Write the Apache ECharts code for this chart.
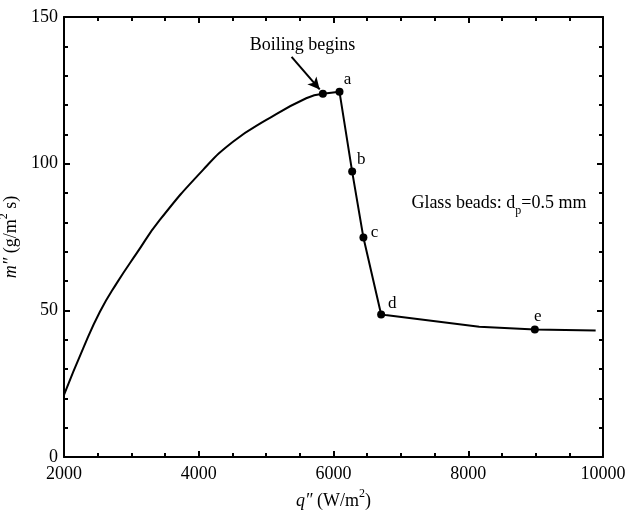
<!DOCTYPE html>
<html>
<head>
<meta charset="utf-8">
<script src="https://cdn.jsdelivr.net/npm/echarts@6/dist/echarts.min.js"></script>
<style>
html, body { margin: 0; padding: 0; background: #fff; }
#main { width: 627px; height: 510px; }
</style>
</head>
<body>
<div id="main"></div>
<script>
// before boiling: smooth curve q'' (W/m2) vs m'' (g/m2 s)
var curveQ = [2000, 2286, 2533, 2781, 3077, 3422, 4064, 4508, 5003, 5595, 5842];
var curveM = [21.2, 37.1, 49.5, 59.2, 69.4, 80.8, 97.9, 107.5, 114.9, 122.3, 123.8];
// after boiling: straight segments
var boilQ = [5842, 6089, 6277, 6444, 6707, 6770, 8163, 8988, 9891];
var boilM = [123.8, 124.5, 97.3, 74.8, 48.6, 48.4, 44.4, 43.5, 43.1];

// marked points
var markNames = ['', 'a', 'b', 'c', 'd', 'e'];
var markQ = [5842, 6089, 6277, 6444, 6707, 8988];
var markM = [123.8, 124.5, 97.3, 74.8, 48.6, 43.5];

var xTicks = [2000, 4000, 6000, 8000, 10000];
var yTicks = [0, 50, 100, 150];

var serif = 'Liberation Serif';
var myChart = echarts.init(document.getElementById('main'));

function pairs(xs, ys) {
    var out = [];
    for (var i = 0; i < xs.length; i++) out.push([xs[i], ys[i]]);
    return out;
}

// label offsets for a..e
var labelOffsets = [[0, 0], [8, -12], [9, -12], [11, -5], [11, -11], [3, -13]];
var dots = [];
for (var j = 0; j < markQ.length; j++) {
    dots.push({
        value: [markQ[j], markM[j]],
        name: markNames[j],
        label: { offset: labelOffsets[j] }
    });
}

var axisCommon = {
    type: 'value',
    axisLine: { show: true, onZero: false, lineStyle: { color: '#000', width: 2 } },
    axisTick: { show: true, inside: true, length: 6, lineStyle: { color: '#000', width: 2 } },
    minorTick: { show: true, length: 4, lineStyle: { color: '#000', width: 2 } },
    splitLine: { show: false },
    axisLabel: { color: '#000', fontFamily: serif, fontSize: 18, formatter: function (v) { return String(v); } }
};

var nameStyle = {
    color: '#000', fontFamily: serif, fontSize: 18,
    rich: {
        i: { fontFamily: serif, fontSize: 18, fontStyle: 'italic', color: '#000' },
        sup: { fontFamily: serif, fontSize: 12, color: '#000', padding: [0, 0, 15, 0] }
    }
};

option = {
    animation: false,
    backgroundColor: '#fff',
    grid: { left: 64, right: 24, top: 17, bottom: 53, outerBoundsMode: 'none' },
    xAxis: [
        echarts.util.merge({
            min: xTicks[0], max: xTicks[xTicks.length - 1], interval: 2000,
            minorTick: { splitNumber: 4 },
            axisLabel: { margin: 8 },
            name: '{i|q\u2033} (W/m{sup|2})',
            nameLocation: 'middle', nameGap: 31,
            nameTextStyle: nameStyle
        }, axisCommon, false),
        echarts.util.merge({
            position: 'top', min: xTicks[0], max: xTicks[xTicks.length - 1], interval: 2000,
            minorTick: { splitNumber: 4 },
            axisLabel: { show: false }
        }, axisCommon, false)
    ],
    yAxis: [
        echarts.util.merge({
            min: yTicks[0], max: yTicks[yTicks.length - 1], interval: 50,
            minorTick: { splitNumber: 5 },
            axisLabel: { margin: 6 },
            name: '{i|m\u2033} (g/m{sup|2} s)',
            nameLocation: 'middle', nameGap: 36,
            nameTextStyle: nameStyle
        }, axisCommon, false),
        echarts.util.merge({
            position: 'right', min: yTicks[0], max: yTicks[yTicks.length - 1], interval: 50,
            minorTick: { splitNumber: 5 },
            axisLabel: { show: false }
        }, axisCommon, false)
    ],
    series: [
        {
            type: 'line',
            data: pairs(curveQ, curveM),
            showSymbol: false,
            smooth: 0.5,
            lineStyle: { color: '#000', width: 2 },
            markLine: {
                silent: true,
                symbol: ['none', 'arrow'],
                symbolSize: [9, 12],
                lineStyle: { color: '#000', width: 2, type: 'solid' },
                label: { show: false },
                data: [[{ coord: [5378, 136.4] }, { coord: [5795, 125.3] }]]
            },
            z: 2
        },
        {
            type: 'line',
            data: pairs(boilQ, boilM),
            showSymbol: false,
            lineStyle: { color: '#000', width: 2 },
            z: 2
        },
        {
            type: 'scatter',
            data: dots,
            symbolSize: 8,
            itemStyle: { color: '#000', opacity: 1 },
            label: {
                show: true,
                position: 'inside',
                formatter: '{b}',
                color: '#000',
                fontFamily: serif,
                fontSize: 17
            },
            z: 3
        },
        {
            type: 'scatter',
            symbolSize: 0,
            itemStyle: { opacity: 1 },
            data: [
                { value: [5541, 140.5], label: { formatter: 'Boiling begins', position: 'inside' } },
                { value: [7156, 86.6], label: { formatter: 'Glass beads: d{sub|p}=0.5 mm', position: 'right', distance: 0 } }
            ],
            label: {
                show: true,
                color: '#000',
                fontFamily: serif,
                fontSize: 18,
                rich: {
                    sub: { fontFamily: serif, fontSize: 12, color: '#000', padding: [16, 0, 0, 0] }
                }
            }
        }
    ]
};
myChart.setOption(option);
</script>
</body>
</html>
